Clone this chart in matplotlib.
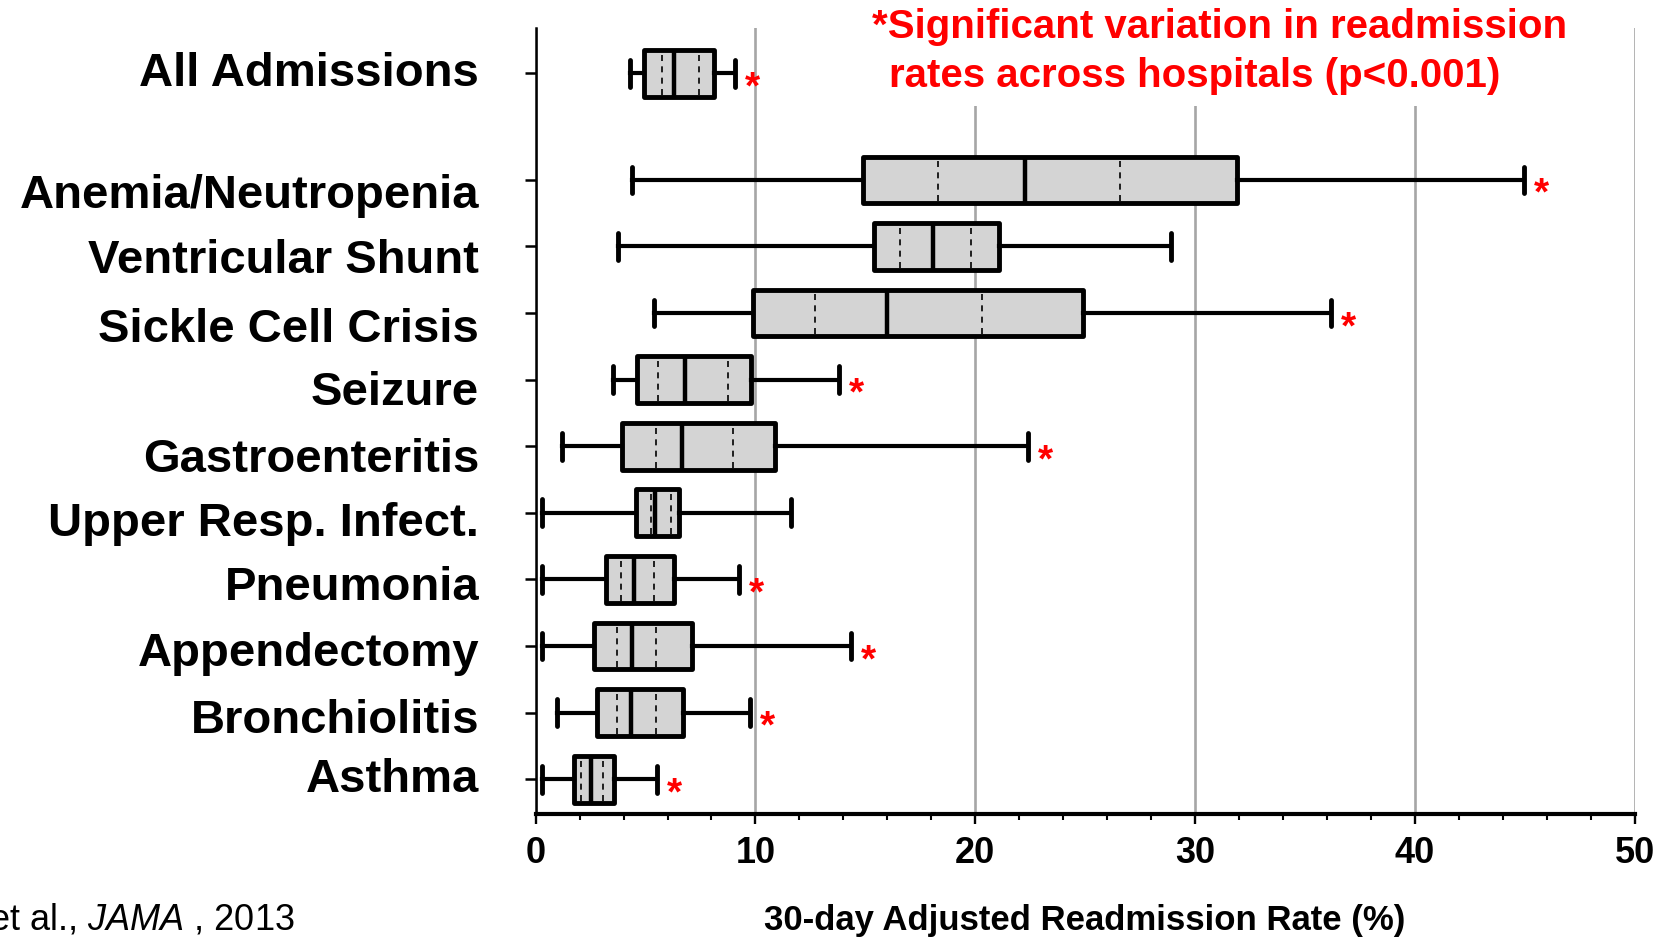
import matplotlib
matplotlib.use("Agg")
import matplotlib.pyplot as plt
from matplotlib.ticker import MultipleLocator
from matplotlib.transforms import ScaledTranslation

# ---------------- data ----------------
categories = ["Asthma", "Bronchiolitis", "Appendectomy", "Pneumonia",
              "Upper Resp. Infect.", "Gastroenteritis", "Seizure",
              "Sickle Cell Crisis", "Ventricular Shunt", "Anemia/Neutropenia",
              "All Admissions"]
positions = [0, 1, 2, 3, 4, 5, 6, 7, 8, 9, 10.6]
whisker_low = [0.3, 0.96, 0.3, 0.3, 0.3, 1.18, 3.54, 5.4, 3.75, 4.38, 4.31]
q1 = [1.75, 2.78, 2.67, 3.19, 4.58, 3.95, 4.6, 9.9, 15.4, 14.9, 4.92]
inner_low = [2.06, 3.72, 3.72, 3.9, 5.24, 5.48, 5.55, 12.7, 16.6, 18.3, 5.76]
median = [2.5, 4.34, 4.4, 4.49, 5.43, 6.65, 6.8, 16.0, 18.1, 22.25, 6.3]
inner_high = [3.07, 5.48, 5.48, 5.39, 6.16, 8.97, 8.74, 20.3, 19.8, 26.6, 7.44]
q3 = [3.58, 6.72, 7.13, 6.3, 6.52, 10.9, 9.79, 24.9, 21.1, 31.9, 8.11]
whisker_high = [5.54, 9.76, 14.36, 9.27, 11.6, 22.4, 13.8, 36.2, 28.9, 44.96, 9.06]
significant = [True, True, True, True, False, True, True, True, False, True, True]
x_ticks = [0, 10, 20, 30, 40, 50]

# vertical nudges of the category labels (pixels, + = up), layout only
label_nudge_px = [4, -3, -3, -4, -6, -8.7, -8, -12, -9.3, -10.7, 4.6]

plt.rcParams['font.family'] = ['Liberation Sans', 'DejaVu Sans']
plt.rcParams['mathtext.fontset'] = 'custom'
plt.rcParams['mathtext.rm'] = 'Liberation Sans'
plt.rcParams['mathtext.it'] = 'Liberation Sans:italic'

fig = plt.figure(figsize=(16.63, 9.39), dpi=100)
ax = fig.add_axes([0.3221, 0.1326, 0.6608, 0.8376])

stats = []
for i in range(len(categories)):
    stats.append(dict(label=categories[i], whislo=whisker_low[i], q1=q1[i],
                      med=median[i], q3=q3[i], whishi=whisker_high[i]))

common = dict(positions=positions, widths=0.7, capwidths=0.4, patch_artist=True,
              showfliers=False,
              boxprops=dict(facecolor='#d4d4d4', edgecolor='black', linewidth=3.5,
                            joinstyle='round'),
              whiskerprops=dict(color='black', linewidth=3.0),
              capprops=dict(color='black', linewidth=3.5, solid_capstyle='round'),
              medianprops=dict(color='black', linewidth=3.2))
try:
    ax.bxp(stats, orientation='horizontal', **common)
except TypeError:
    ax.bxp(stats, vert=False, **common)

# dashed inner lines
for i in range(len(categories)):
    for v in (inner_low[i], inner_high[i]):
        ax.vlines(v, positions[i] - 0.32, positions[i] + 0.32, colors='black',
                  linewidth=1.2, linestyles=(0, (3.6, 3.2)), zorder=2.05)

# significance asterisks
for i in range(len(categories)):
    if significant[i]:
        ax.annotate("*", xy=(whisker_high[i], positions[i]), xytext=(7, -18),
                    textcoords='offset points', color='red', fontsize=28,
                    fontweight='bold', ha='left', va='baseline')

ax.set_xlim(0, 50)
ax.set_ylim(-0.53, 11.28)
ax.set_xticks(x_ticks)
ax.set_xticklabels([str(t) for t in x_ticks])
ax.xaxis.set_minor_locator(MultipleLocator(2))
ax.set_yticks(positions)
ax.set_yticklabels(categories)

ax.set_axisbelow(True)
ax.xaxis.grid(True, which='major', color='#a6a6a6', linewidth=1.9)

for s in ('top', 'right'):
    ax.spines[s].set_visible(False)
ax.spines['left'].set_linewidth(1.8)
ax.spines['bottom'].set_linewidth(3.0)

ax.tick_params(axis='y', length=7.6, width=1.8, pad=33, labelsize=34)
ax.tick_params(axis='x', which='major', length=7.5, width=1.7, pad=8, labelsize=26)
ax.tick_params(axis='x', which='minor', length=4.5, width=1.5)
for lab, nudge in zip(ax.get_yticklabels(), label_nudge_px):
    lab.set_fontweight('bold')
    lab.set_transform(lab.get_transform() +
                      ScaledTranslation(0, nudge / 100.0, fig.dpi_scale_trans))
for lab in ax.get_xticklabels():
    lab.set_fontweight('bold')

ax.set_xlabel("30-day Adjusted Readmission Rate (%)", fontsize=25,
              fontweight='bold', va='baseline')
ax.xaxis.set_label_coords(0.5, -0.1469)

# title annotation (red)
fig.text(0.5242, 0.9595, "*Significant variation in readmission", color='red',
         fontsize=29, fontweight='bold', ha='left', va='baseline',
         bbox=dict(facecolor='white', edgecolor='none', pad=8))
fig.text(0.5346, 0.9073, "rates across hospitals (p<0.001)", color='red',
         fontsize=29, fontweight='bold', ha='left', va='baseline',
         bbox=dict(facecolor='white', edgecolor='none', pad=8))

# citation
fig.text(0.1774, 0.0096, r"et al., $\mathit{JAMA}$ , 2013", fontsize=26,
         ha='right', va='baseline')

fig.savefig("out.png", dpi=100)
